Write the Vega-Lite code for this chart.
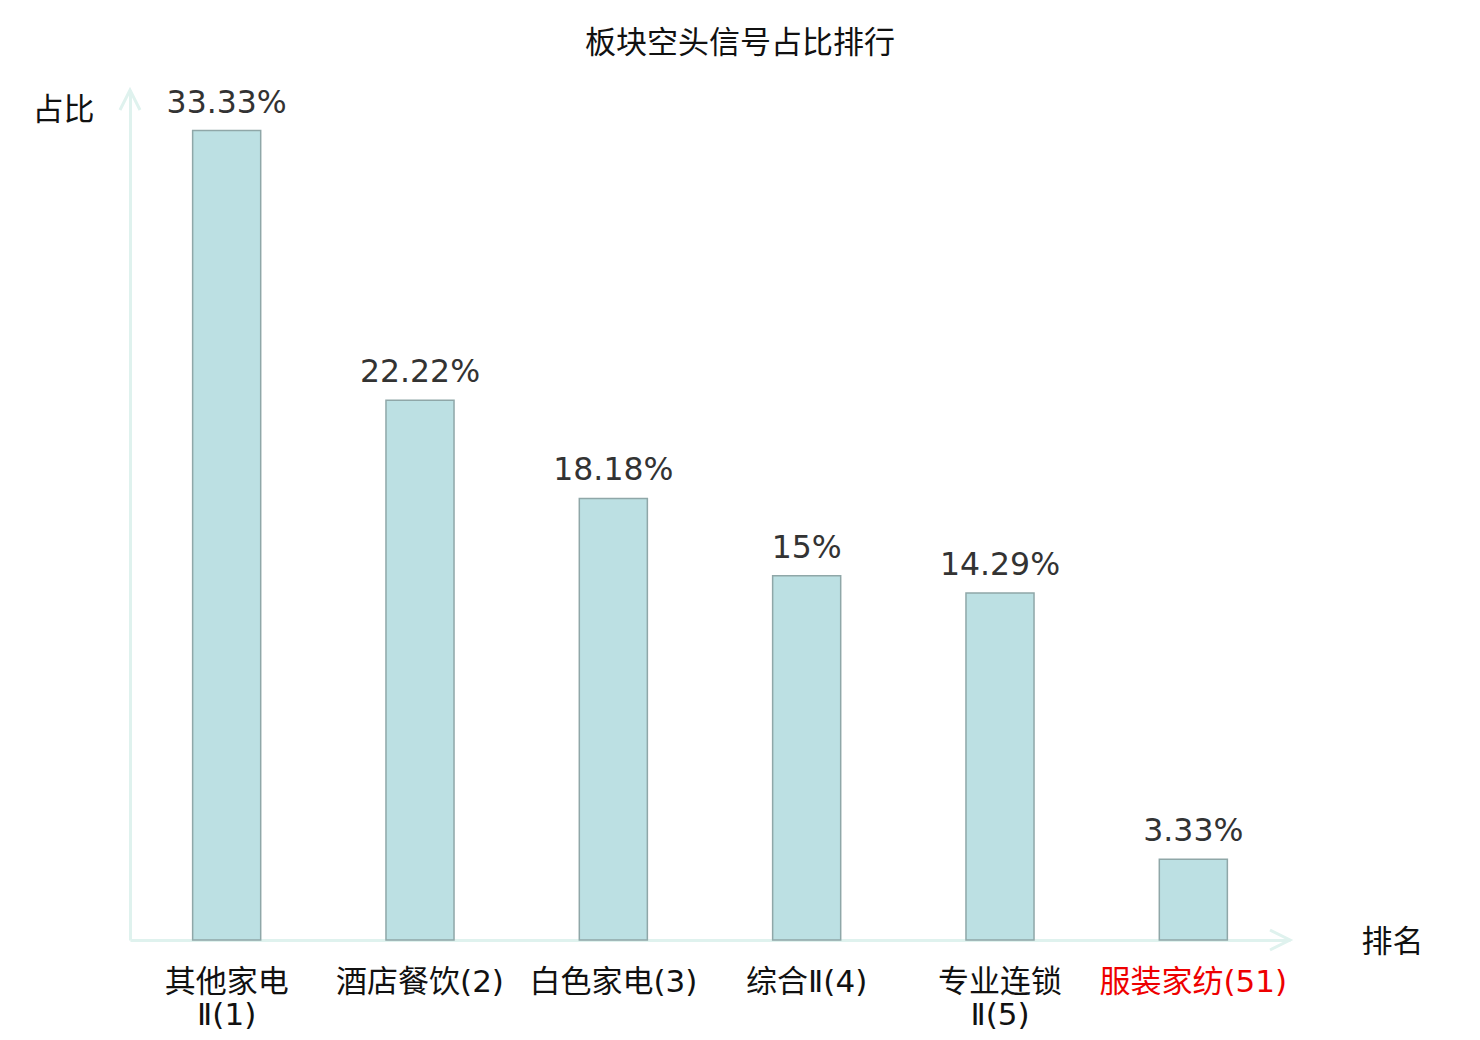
{
  "$schema": "https://vega.github.io/schema/vega-lite/v6.json",
  "autosize": "none",
  "width": 1160,
  "height": 850,
  "padding": {"left": 130, "top": 90, "right": 190, "bottom": 100},
  "background": "white",
  "title": {
    "text": "板块空头信号占比排行",
    "font": "Noto Sans CJK SC",
    "fontSize": 31,
    "fontWeight": "normal",
    "color": "#111111",
    "anchor": "middle",
    "dx": 30,
    "offset": 24
  },
  "datasets": {
    "sectors": [
      {"label": "其他家电Ⅱ(1)", "value": 33.33, "text": "33.33%"},
      {"label": "酒店餐饮(2)", "value": 22.22, "text": "22.22%"},
      {"label": "白色家电(3)", "value": 18.18, "text": "18.18%"},
      {"label": "综合Ⅱ(4)", "value": 15, "text": "15%"},
      {"label": "专业连锁Ⅱ(5)", "value": 14.29, "text": "14.29%"},
      {"label": "服装家纺(51)", "value": 3.33, "text": "3.33%"}
    ],
    "arrows": [
      {"dir": "up", "ax": 0, "ay": 35},
      {"dir": "right", "ax": 1, "ay": 0}
    ]
  },
  "layer": [
    {
      "data": {"name": "sectors"},
      "layer": [
        {
          "mark": {"type": "bar", "width": {"band": 0.352}, "fill": "#bce0e3", "stroke": "#8fa7a8", "strokeWidth": 1.5},
          "encoding": {
            "x": {
              "field": "label",
              "type": "nominal",
              "sort": null,
              "scale": {"paddingInner": 0, "paddingOuter": 0},
              "axis": {
                "title": "排名",
                "titleFont": "Noto Sans CJK SC",
                "titleFontSize": 31,
                "titleFontWeight": "normal",
                "titleColor": "#111111",
                "titleX": 1262,
                "titleY": 2,
                "titleAlign": "center",
                "titleBaseline": "middle",
                "domainColor": "#dff2ee",
                "domainWidth": 3,
                "ticks": false,
                "labelAngle": 0,
                "labelFont": "DejaVu Sans, Noto Sans CJK SC",
                "labelFontSize": 31,
                "labelLimit": 400,
                "labelOverlap": false,
                "labelColor": {"condition": {"test": "datum.value == '服装家纺(51)'", "value": "#ee0000"}, "value": "#111111"},
                "labelPadding": 27,
                "labelLineHeight": 33,
                "labelBaseline": "top",
                "labelExpr": "length(datum.label) == 8 && indexof(datum.label, 'Ⅱ') == 4 ? [substring(datum.label, 0, 4), substring(datum.label, 4)] : datum.label"
              }
            },
            "y": {
              "field": "value",
              "type": "quantitative",
              "scale": {"domain": [0, 35], "nice": false},
              "axis": {
                "title": "占比",
                "titleFont": "Noto Sans CJK SC",
                "titleFontSize": 31,
                "titleFontWeight": "normal",
                "titleColor": "#111111",
                "titleAngle": 0,
                "titleX": -67,
                "titleY": 20,
                "titleAlign": "center",
                "titleBaseline": "middle",
                "domainColor": "#dff2ee",
                "domainWidth": 3,
                "ticks": false,
                "labels": false,
                "grid": false
              }
            }
          }
        },
        {
          "mark": {"type": "text", "font": "DejaVu Sans", "fontSize": 31.5, "color": "#333333", "baseline": "alphabetic", "dy": -18},
          "encoding": {
            "x": {"field": "label", "type": "nominal", "sort": null},
            "y": {"field": "value", "type": "quantitative"},
            "text": {"field": "text"}
          }
        }
      ]
    },
    {
      "data": {"name": "arrows"},
      "mark": {"type": "point", "filled": false, "size": 400, "stroke": "#dff2ee", "strokeWidth": 3, "opacity": 1},
      "encoding": {
        "x": {"field": "ax", "type": "quantitative", "scale": {"domain": [0, 1], "nice": false, "zero": false}, "axis": null},
        "y": {"field": "ay", "type": "quantitative"},
        "shape": {
          "field": "dir",
          "type": "nominal",
          "scale": {"domain": ["up", "right"], "range": ["M-1,2L0,0L1,2", "M-2,-1L0,0L-2,1"]},
          "legend": null
        }
      }
    }
  ],
  "resolve": {"scale": {"x": "independent"}},
  "config": {"view": {"stroke": null}}
}
